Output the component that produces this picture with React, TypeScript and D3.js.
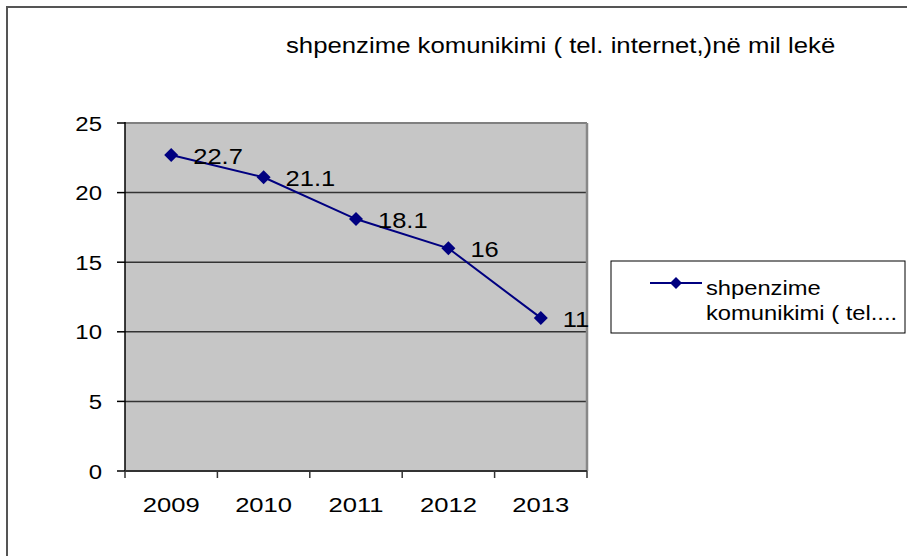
import React from "react";
import * as d3 from "d3";

// chart values
const years = ["2009", "2010", "2011", "2012", "2013"];
const values = [22.7, 21.1, 18.1, 16, 11];
const yTicks = [0, 5, 10, 15, 20, 25];
const title = "shpenzime komunikimi ( tel. internet,)në mil lekë";
const legendLines = ["shpenzime", "komunikimi ( tel...."];

const W = 907;
const H = 556;
const plot = { left: 125, right: 587, top: 123, bottom: 471 };
const FONT = "'Liberation Sans', Arial, sans-serif";

// horizontally stretched text, like the original raster
const Txt: React.FC<{ x: number; y: number; size: number; sx: number; anchor?: string; children: React.ReactNode }> = ({ x, y, size, sx, anchor = "start", children }) => (
  <text transform={`translate(${x},${y}) scale(${sx},1)`} fontSize={size} fontFamily={FONT} fill="#000" textAnchor={anchor}>
    {children}
  </text>
);

const diamond = (cx: number, cy: number, r: number) =>
  `M${cx},${cy - r}L${cx + r},${cy}L${cx},${cy + r}L${cx - r},${cy}Z`;

export default function App() {
  const x = d3.scaleBand().domain(years).range([plot.left, plot.right]);
  const y = d3.scaleLinear().domain([0, 25]).range([plot.bottom, plot.top]);
  const cx = (d: string) => (x(d) ?? 0) + x.bandwidth() / 2;

  const line = d3
    .line<number>()
    .x((_, i) => cx(years[i]))
    .y((d) => y(d));

  const bandEdges = [...years.map((d) => x(d) ?? 0), plot.right];

  return (
    <svg width={W} height={H} style={{ position: "absolute", left: 0, top: 0, background: "#fff" }}>
      {/* outer chart frame */}
      <rect x={7} y={7} width={1000} height={1000} fill="none" stroke="#555" strokeWidth={2} />

      <Txt x={286} y={53} size={22} sx={1.17}>{title}</Txt>

      {/* plot area */}
      <rect x={plot.left} y={plot.top} width={plot.right - plot.left} height={plot.bottom - plot.top} fill="#c6c6c6" />
      {yTicks.filter((t) => t > 0 && t < 25).map((t) => (
        <line key={t} x1={plot.left} x2={plot.right} y1={y(t)} y2={y(t)} stroke="#333" strokeWidth={1.5} />
      ))}
      <line x1={plot.left} x2={plot.right} y1={y(25)} y2={y(25)} stroke="#808080" strokeWidth={2} />
      <line x1={plot.right} x2={plot.right} y1={plot.top} y2={plot.bottom} stroke="#888" strokeWidth={2.5} />

      {/* y axis */}
      <line x1={plot.left} x2={plot.left} y1={plot.top - 1} y2={plot.bottom} stroke="#000" strokeWidth={1.5} />
      {yTicks.map((t) => (
        <g key={t}>
          <line x1={plot.left - 8} x2={plot.left} y1={y(t)} y2={y(t)} stroke="#000" strokeWidth={1.5} />
          <Txt x={102} y={y(t) + 7.5} size={20.5} sx={1.17} anchor="end">{t}</Txt>
        </g>
      ))}

      {/* x axis */}
      <line x1={plot.left} x2={plot.right} y1={plot.bottom} y2={plot.bottom} stroke="#333" strokeWidth={2} />
      {bandEdges.map((bx, i) => (
        <line key={i} x1={bx} x2={bx} y1={plot.bottom} y2={plot.bottom + 7} stroke="#333" strokeWidth={1.5} />
      ))}
      {years.map((d) => (
        <Txt key={d} x={cx(d)} y={512} size={21} sx={1.22} anchor="middle">{d}</Txt>
      ))}

      {/* series */}
      <path d={line(values) ?? ""} fill="none" stroke="#000080" strokeWidth={2} />
      {values.map((v, i) => (
        <g key={i}>
          <path d={diamond(cx(years[i]), y(v), 7)} fill="#000080" />
          <Txt x={cx(years[i]) + 22} y={y(v) + 9} size={22} sx={1.16}>{v}</Txt>
        </g>
      ))}

      {/* legend */}
      <rect x={611} y={261} width={294} height={72} fill="#fff" stroke="#000" strokeWidth={1} />
      <line x1={650} x2={702} y1={283} y2={283} stroke="#000080" strokeWidth={2} />
      <path d={diamond(676, 283, 6)} fill="#000080" />
      {legendLines.map((l, i) => (
        <Txt key={i} x={706} y={295 + i * 25} size={21} sx={1.13}>{l}</Txt>
      ))}
    </svg>
  );
}
